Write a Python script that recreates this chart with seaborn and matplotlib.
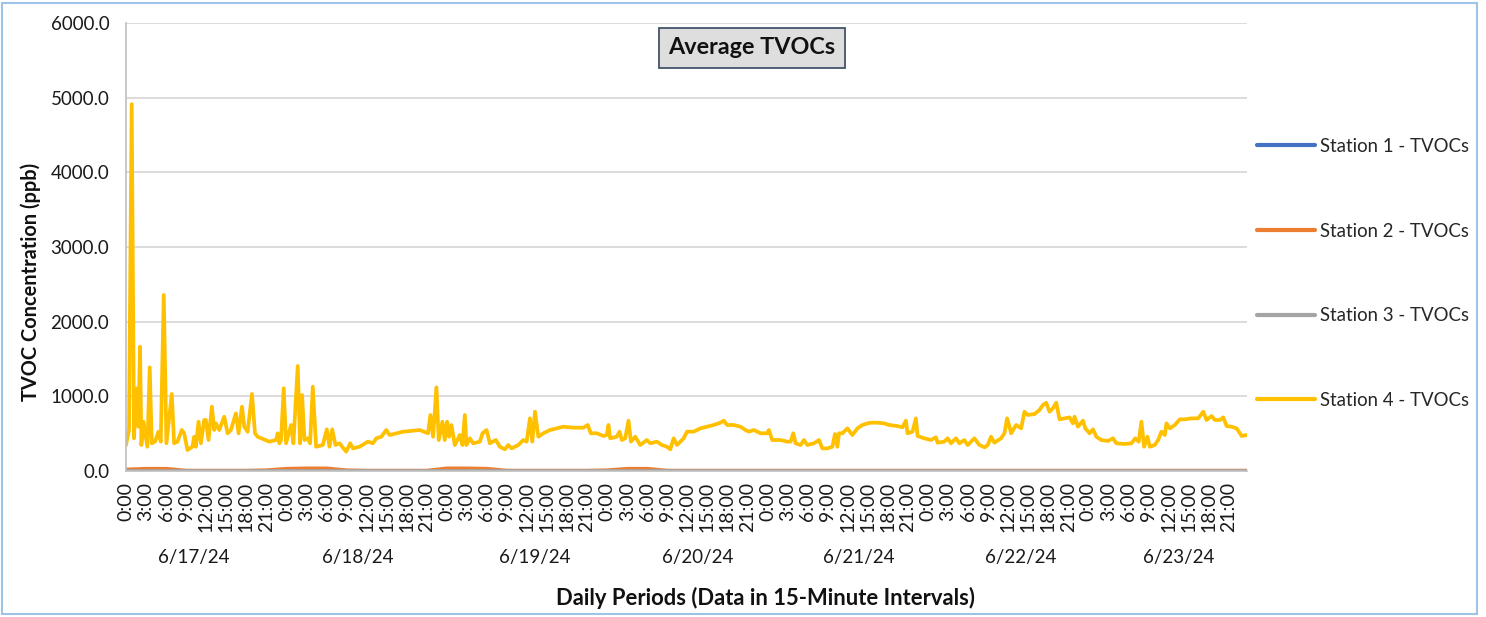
import numpy as np
import pandas as pd
import matplotlib
matplotlib.use('Agg')
import matplotlib.pyplot as plt
import seaborn as sns
from matplotlib.patches import Rectangle
from matplotlib.ticker import FormatStrFormatter
import matplotlib.transforms as mtransforms

sns.set_style("white")
plt.rcParams['font.family'] = ['Lato', 'DejaVu Sans']

# === data (hours since 6/17/24 0:00) ===
stations = ['Station 1 - TVOCs', 'Station 2 - TVOCs', 'Station 3 - TVOCs', 'Station 4 - TVOCs']
colors = ['#4472C4', '#ED7D31', '#A5A5A5', '#FFC000']

day_labels = ['6/17/24', '6/18/24', '6/19/24', '6/20/24', '6/21/24', '6/22/24', '6/23/24']

# stations 1-3, every 3 hours
base_hours = [0, 3, 6, 9, 12, 15, 18, 21, 24, 27, 30, 33, 36, 39, 42, 45, 48, 51, 54,
              57, 60, 63, 66, 69, 72, 75, 78, 81, 84, 87, 90, 93, 96, 99, 102, 105,
              108, 111, 114, 117, 120, 123, 126, 129, 132, 135, 138, 141, 144, 147,
              150, 153, 156, 159, 162, 165, 168]
s1_vals = [1, 1, 1, 1, 1, 1, 1, 1, 1, 1, 1, 1, 1, 1, 1, 1, 1, 1, 1,
           1, 1, 1, 1, 1, 1, 1, 1, 1, 1, 1, 1, 1, 1, 1, 1, 1, 1, 1,
           1, 1, 1, 1, 1, 1, 1, 1, 1, 1, 1, 1, 1, 1, 1, 1, 1, 1, 1]
s2_vals = [20, 30, 30, 5, 5, 5, 5, 10, 30, 35, 35, 10, 5, 5, 5, 5, 35, 35, 30,
           5, 5, 5, 5, 5, 10, 30, 30, 5, 5, 5, 5, 5, 5, 5, 5, 5, 5, 5,
           5, 5, 5, 5, 5, 5, 5, 5, 5, 5, 5, 5, 5, 5, 5, 5, 5, 5, 5]
s3_vals = [2, 2, 2, 2, 2, 2, 2, 2, 2, 2, 2, 2, 2, 2, 2, 2, 2, 2, 2,
           2, 2, 2, 2, 2, 2, 2, 2, 2, 2, 2, 2, 2, 2, 2, 2, 2, 2, 2,
           2, 2, 2, 2, 2, 2, 2, 2, 2, 2, 2, 2, 2, 2, 2, 2, 2, 2, 2]

# station 4, 6/17 - 6/18
s4_hours_a = [0.0, 0.45, 0.85, 1.2, 1.55, 1.85, 2.1, 2.3, 2.6, 3.2,
              3.55, 3.85, 4.35, 4.85, 5.2, 5.65, 6.05, 6.85, 7.2, 7.7,
              8.35, 8.7, 9.2, 9.95, 10.2, 10.45, 10.85, 11.2, 11.7, 11.95,
              12.35, 12.85, 13.2, 13.45, 13.95, 14.7, 15.2, 15.7, 16.45, 16.85,
              17.35, 17.7, 18.2, 18.85, 19.3, 19.7, 21.45, 22.45, 22.7, 22.95,
              23.2, 23.6, 23.95, 24.7, 25.05, 25.7, 26.05, 26.35, 26.7, 27.2,
              27.55, 27.95, 28.45, 29.45, 30.05, 30.45, 30.85, 31.35, 31.95, 32.95,
              33.55, 33.95, 34.95, 36.2, 36.95, 37.45, 38.2, 38.95, 39.45, 41.45,
              43.95, 45.2, 45.55, 45.95, 46.45, 46.8]
s4_vals_a = [348, 549, 4914, 438, 1107, 593, 1664, 348, 660, 325,
             1388, 371, 393, 526, 393, 2357, 371, 1031, 371, 393,
             549, 505, 281, 325, 459, 325, 660, 371, 683, 683,
             415, 861, 549, 638, 549, 727, 505, 549, 772, 505,
             861, 593, 526, 1031, 505, 459, 393, 415, 505, 371,
             415, 1107, 371, 616, 371, 1406, 371, 1018, 415, 438,
             371, 1129, 325, 348, 558, 325, 558, 348, 371, 259,
             371, 303, 325, 393, 371, 438, 459, 549, 482, 526,
             549, 505, 750, 459, 1120, 415]

# station 4, 6/19 - 6/21
s4_hours_b = [47.35, 47.7, 48.05, 48.35, 48.7, 49.2, 49.95, 50.35, 50.7, 50.95,
              51.45, 51.95, 52.95, 53.35, 53.95, 54.45, 55.35, 55.95, 56.7, 57.2,
              57.7, 58.7, 59.45, 59.95, 60.45, 60.8, 61.2, 61.7, 62.45, 63.45,
              64.45, 65.45, 66.95, 68.45, 69.1, 69.55, 70.45, 71.45, 71.95, 72.2,
              72.45, 73.45, 73.85, 74.2, 74.7, 75.2, 75.55, 76.2, 76.95, 77.95,
              78.45, 79.45, 80.2, 80.95, 81.45, 81.95, 82.45, 83.45, 83.95, 84.95,
              85.95, 86.95, 87.95, 88.95, 89.45, 89.95, 90.95, 91.95, 92.7, 93.2,
              93.95, 94.95, 95.95, 96.2, 96.7, 97.95, 98.95, 99.45, 99.85, 100.2,
              100.95, 101.45, 101.95, 102.95, 103.7, 104.2, 104.95, 105.7, 106.1, 106.45]
s4_vals_b = [660, 415, 660, 459, 616, 348, 482, 348, 750, 348,
             438, 371, 393, 505, 549, 371, 415, 325, 290, 348,
             303, 348, 415, 393, 705, 393, 794, 459, 505, 549,
             571, 593, 580, 580, 616, 505, 505, 469, 482, 616,
             438, 459, 527, 415, 438, 674, 393, 459, 348, 415,
             371, 393, 348, 325, 290, 438, 348, 438, 527, 527,
             571, 593, 616, 647, 674, 616, 616, 593, 549, 527,
             549, 505, 505, 549, 415, 415, 393, 393, 505, 371,
             348, 415, 348, 371, 415, 303, 303, 325, 496, 325]

# station 4, 6/21 - 6/23
s4_hours_c = [106.7, 107.2, 107.95, 108.7, 109.45, 110.2, 110.95, 111.45, 112.45, 113.45,
              114.2, 115.45, 116.2, 116.7, 116.95, 117.7, 118.2, 118.45, 119.45, 120.45,
              121.2, 121.45, 122.45, 122.95, 123.45, 124.2, 124.7, 125.45, 125.95, 126.95,
              127.7, 128.5, 128.95, 129.45, 129.95, 130.95, 131.45, 131.85, 132.2, 132.45,
              133.2, 133.95, 134.45, 134.95, 135.95, 136.7, 137.2, 137.7, 138.2, 138.7,
              139.2, 139.7, 140.45, 141.2, 141.7, 141.95, 142.45, 143.2, 143.55, 144.2,
              144.7, 145.2, 145.95, 146.95, 147.7, 148.2, 149.45, 150.45, 151.05, 151.55,
              151.95, 152.35, 152.85, 153.2, 153.95, 154.45, 154.95, 155.45, 155.7, 156.2,
              156.95, 157.7, 158.45, 159.45, 160.45, 161.2, 161.7, 162.45, 162.95, 163.7,
              164.2, 164.7, 165.45, 166.2, 166.95, 167.75]
s4_vals_c = [505, 505, 571, 482, 571, 616, 638, 647, 647, 638,
             616, 602, 585, 674, 505, 527, 705, 469, 438, 415,
             451, 379, 393, 438, 371, 438, 371, 415, 348, 438,
             348, 317, 348, 459, 379, 438, 505, 705, 593, 505,
             616, 571, 794, 750, 763, 817, 883, 914, 794, 839,
             914, 692, 705, 718, 638, 727, 593, 674, 571, 505,
             558, 459, 415, 402, 438, 371, 362, 371, 438, 393,
             660, 325, 459, 325, 348, 415, 527, 482, 638, 571,
             616, 692, 692, 705, 705, 794, 683, 736, 683, 683,
             718, 602, 593, 571, 469, 482]

# === build long table ===
frames = [
    pd.DataFrame({'hour': base_hours, 'tvoc': s1_vals, 'station': stations[0]}),
    pd.DataFrame({'hour': base_hours, 'tvoc': s2_vals, 'station': stations[1]}),
    pd.DataFrame({'hour': base_hours, 'tvoc': s3_vals, 'station': stations[2]}),
    pd.DataFrame({'hour': s4_hours_a + s4_hours_b + s4_hours_c,
                  'tvoc': s4_vals_a + s4_vals_b + s4_vals_c, 'station': stations[3]}),
]
df = pd.concat(frames, ignore_index=True)

# === figure ===
W, H = 1486, 617
fig = plt.figure(figsize=(W / 100, H / 100), dpi=100)
ax = fig.add_axes([126 / W, 1 - 471 / H, (1247 - 126) / W, (471 - 23) / H])

sns.lineplot(data=df, x='hour', y='tvoc', hue='station', hue_order=stations,
             palette=dict(zip(stations, colors)), estimator=None, linewidth=2.7,
             ax=ax)

ax.set_xlim(0, 167.75)
ax.set_ylim(0, 6000)
ax.set_yticks(np.arange(0, 6001, 1000))
ax.yaxis.set_major_formatter(FormatStrFormatter('%.1f'))
ax.yaxis.grid(True, color='#D9D9D9', linewidth=1.3)
ax.set_axisbelow(True)

tick_hours = list(range(0, 168, 3))
ax.set_xticks(tick_hours)
ax.set_xticklabels([f'{h % 24}:00' for h in tick_hours], rotation=90, fontsize=14,
                   color='#1a1a1a')
ax.tick_params(axis='y', labelsize=13.5, labelcolor='#1a1a1a', length=5, color='#BFBFBF',
               pad=7)
ax.tick_params(axis='x', length=5, color='#BFBFBF', pad=3)

for side in ['top', 'right']:
    ax.spines[side].set_visible(False)
for side in ['left', 'bottom']:
    ax.spines[side].set_color('#BFBFBF')
    ax.spines[side].set_linewidth(1.2)

ax.set_xlabel('')
ax.set_ylabel('')

# date group labels under the hour labels
date_pos = [10.2, 34.65, 61.2, 85.5, 109.65, 133.95, 157.5]
trans = mtransforms.blended_transform_factory(ax.transData, ax.transAxes)
for pos, lab in zip(date_pos, day_labels):
    ax.text(pos, -0.194, lab, transform=trans, ha='center', va='center',
            fontsize=13.5, color='#1a1a1a')

fig.text(766 / W, 1 - 598 / H, 'Daily Periods (Data in 15-Minute Intervals)',
         ha='center', va='center', fontsize=15.8, fontweight='bold', color='#111111')
fig.text(31 / W, 1 - 282 / H, 'TVOC Concentration (ppb)', rotation=90,
         ha='center', va='center', fontsize=14.4, fontweight='bold', color='#111111')

# title box
fig.text(752 / W, 1 - 48 / H, 'Average TVOCs', ha='center', va='center',
         fontsize=16.8, fontweight='bold', color='#111111',
         bbox=dict(boxstyle='square,pad=0.4', facecolor='#DEDEDE', edgecolor='#44546A',
                   linewidth=1.3))

# legend
sns.move_legend(ax, loc='upper left', bbox_to_anchor=(1257 / W, 1 - 138 / H),
                bbox_transform=fig.transFigure, frameon=False, title=None,
                fontsize=13.4, handlelength=3.1, handletextpad=0.3,
                labelspacing=3.63, borderpad=0, borderaxespad=0)
for line in ax.get_legend().get_lines():
    line.set_linewidth(3)

# outer chart frame
fig.patches.append(Rectangle((2 / W, 3 / H), (1477 - 2) / W, (614 - 3) / H,
                             transform=fig.transFigure, fill=False,
                             edgecolor='#9DC3E6', linewidth=1.5))

fig.savefig('out.png', dpi=100)
plt.close(fig)
